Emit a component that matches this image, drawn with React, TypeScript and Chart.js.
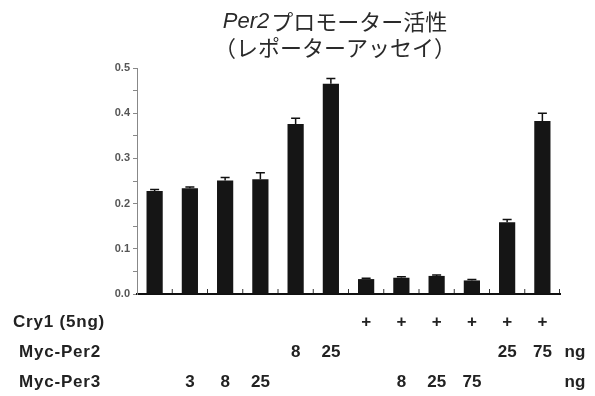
import React, { useEffect, useRef } from "react";
import { Chart, registerables } from "chart.js";

Chart.register(...registerables);

const categories = ["C1", "C2", "C3", "C4", "C5", "C6", "C7", "C8", "C9", "C10", "C11", "C12"];
const activity = [0.228, 0.234, 0.251, 0.254, 0.376, 0.465, 0.033, 0.036, 0.04, 0.03, 0.159, 0.383];
const errors = [0.003, 0.003, 0.007, 0.014, 0.013, 0.012, 0.002, 0.002, 0.002, 0.002, 0.006, 0.017];
const cry1Row = ["", "", "", "", "", "", "+", "+", "+", "+", "+", "+"];
const per2Row = ["", "", "", "", "8", "25", "", "", "", "", "25", "75"];
const per3Row = ["", "3", "8", "25", "", "", "", "8", "25", "75", "", ""];
const rowLabels = ["Cry1 (5ng)", "Myc-Per2", "Myc-Per3"];
const rowUnits = ["", "ng", "ng"];
const titleItalic = "Per2";
const titleRest = "プロモーター活性";
const titleLine2 = "（レポーターアッセイ）";

const extrasPlugin = {
  id: "extras",
  afterDatasetsDraw(chart: any) {
    const ctx = chart.ctx;
    const xs = chart.scales.x;
    const ys = chart.scales.y;
    const area = chart.chartArea;
    ctx.save();
    // error bars
    ctx.strokeStyle = "#111";
    ctx.lineWidth = 1.5;
    const meta = chart.getDatasetMeta(0);
    meta.data.forEach((bar: any, i: number) => {
      const x = bar.x;
      const yTop = ys.getPixelForValue(activity[i]);
      const yErr = ys.getPixelForValue(activity[i] + errors[i]);
      ctx.beginPath();
      ctx.moveTo(x, yTop);
      ctx.lineTo(x, yErr);
      ctx.moveTo(x - 4.5, yErr);
      ctx.lineTo(x + 4.5, yErr);
      ctx.stroke();
    });
    // inward x ticks at category boundaries
    ctx.lineWidth = 1;
    ctx.strokeStyle = "#333";
    for (let i = 0; i < categories.length; i++) {
      const xb = i < categories.length - 1
        ? (xs.getPixelForValue(i) + xs.getPixelForValue(i + 1)) / 2
        : area.right - 0.5;
      ctx.beginPath();
      ctx.moveTo(xb, area.bottom - 1);
      ctx.lineTo(xb, area.bottom - 5);
      ctx.stroke();
    }
    ctx.restore();
  },
  afterDraw(chart: any) {
    const ctx = chart.ctx;
    const xs = chart.scales.x;
    const area = chart.chartArea;
    ctx.save();
    // title
    ctx.fillStyle = "#2a2a2a";
    ctx.textBaseline = "middle";
    ctx.textAlign = "left";
    const fItal = "italic 22px 'Liberation Sans', Arial, sans-serif";
    const fCjk = "22px 'Noto Sans CJK JP', sans-serif";
    ctx.font = fItal;
    const w1 = ctx.measureText(titleItalic).width + 2;
    ctx.font = fCjk;
    const w2 = ctx.measureText(titleRest).width;
    const cx = 335;
    const sx = cx - (w1 + w2) / 2;
    ctx.font = fItal;
    ctx.fillText(titleItalic, sx, 22);
    ctx.font = fCjk;
    ctx.fillText(titleRest, sx + w1, 22);
    ctx.textAlign = "center";
    ctx.fillText(titleLine2, cx, 48);

    // condition rows
    const rows = [cry1Row, per2Row, per3Row];
    const rowOffsets = [28, 58, 88];
    const labelX = [13, 19, 19];
    ctx.font = "bold 17px 'Liberation Sans', Arial, sans-serif";
    ctx.fillStyle = "#222";
    rows.forEach((row, r) => {
      const y = area.bottom + rowOffsets[r];
      ctx.textAlign = "left";
      (ctx as any).letterSpacing = "0.8px";
      ctx.fillText(rowLabels[r], labelX[r], y);
      (ctx as any).letterSpacing = "0px";
      ctx.textAlign = "center";
      row.forEach((txt, i) => {
        if (txt) ctx.fillText(txt, xs.getPixelForValue(i), y);
      });
      if (rowUnits[r]) ctx.fillText(rowUnits[r], area.right + 15, y);
    });
    ctx.restore();
  },
};

export default function App() {
  const ref = useRef<HTMLCanvasElement>(null);
  useEffect(() => {
    if (!ref.current) return;
    const chart = new Chart(ref.current, {
      type: "bar",
      data: {
        labels: categories,
        datasets: [
          {
            data: activity,
            backgroundColor: "#151515",
            borderWidth: 0,
            barPercentage: 0.46,
            categoryPercentage: 1,
          },
        ],
      },
      options: {
        animation: false,
        responsive: false,
        devicePixelRatio: 1,
        layout: { padding: { top: 68, right: 35, left: 0, bottom: 0 } },
        plugins: {
          legend: { display: false },
          title: { display: false },
          tooltip: { enabled: false },
        },
        scales: {
          x: {
            ticks: { display: false },
            grid: { display: false, drawTicks: false },
            border: { display: true, color: "#111", width: 2 },
            afterFit: (s: any) => {
              s.height = 102;
            },
          },
          y: {
            min: 0,
            max: 0.5,
            ticks: {
              stepSize: 0.05,
              autoSkip: false,
              padding: 3,
              color: "#555",
              font: { family: "'Liberation Sans', Arial, sans-serif", size: 11, weight: "bold" },
              callback: (v: any) => {
                const n = Math.round(Number(v) * 100);
                return n % 10 === 0 ? (n / 100).toFixed(1) : "";
              },
            },
            grid: { drawOnChartArea: false, drawTicks: true, tickLength: 4, color: "#888", lineWidth: 1 },
            border: { display: true, color: "#888", width: 1 },
            afterFit: (s: any) => {
              s.width = 137;
            },
          },
        },
      },
      plugins: [extrasPlugin],
    });
    return () => chart.destroy();
  }, []);
  return (
    <div style={{ position: "fixed", left: 0, top: 0, width: 595, height: 396, background: "#fff" }}>
      <canvas ref={ref} width={595} height={396} style={{ display: "block" }} />
    </div>
  );
}
